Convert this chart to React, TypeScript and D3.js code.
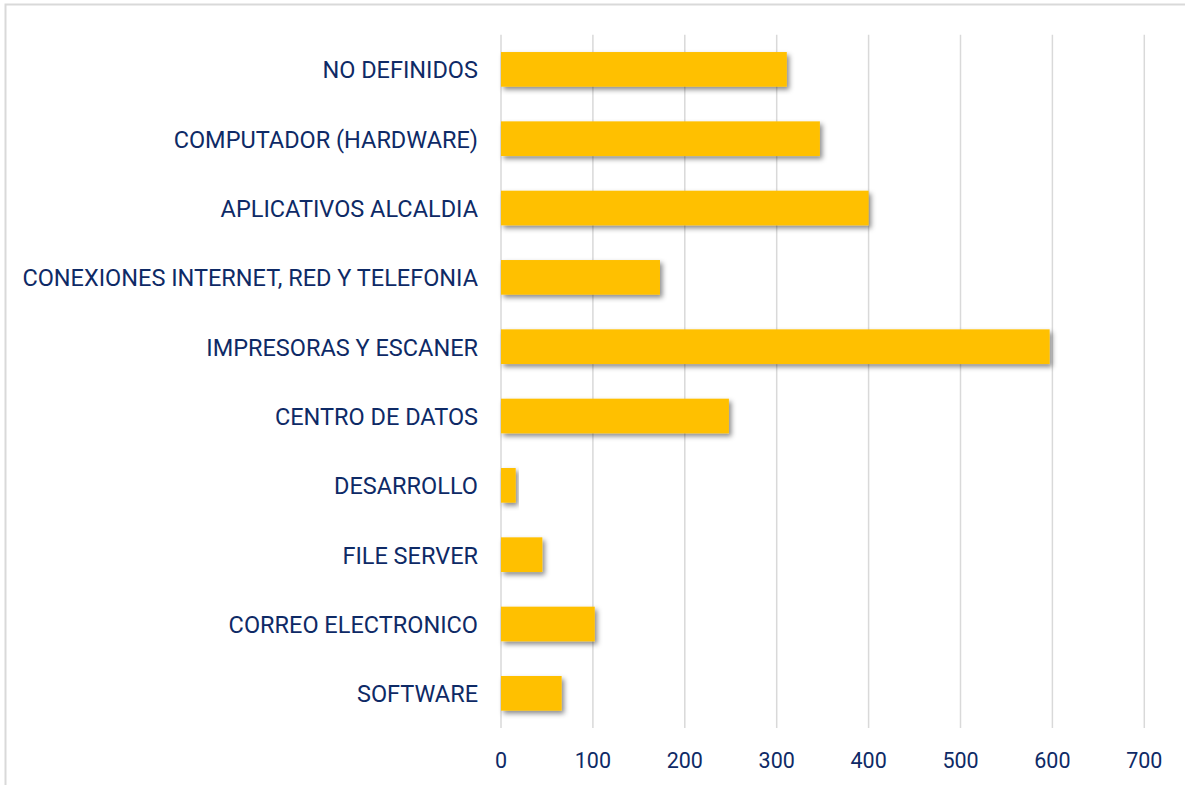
import React, { useEffect, useRef } from "react";
import * as d3 from "d3";

const categories = [
  "NO DEFINIDOS",
  "COMPUTADOR (HARDWARE)",
  "APLICATIVOS ALCALDIA",
  "CONEXIONES INTERNET, RED Y TELEFONIA",
  "IMPRESORAS Y ESCANER",
  "CENTRO DE DATOS",
  "DESARROLLO",
  "FILE SERVER",
  "CORREO ELECTRONICO",
  "SOFTWARE",
];
const values = [311, 347, 400, 173, 597, 248, 16, 45, 102, 66];
const xTicks = [0, 100, 200, 300, 400, 500, 600, 700];

const W = 1185;
const H = 785;
const left = 501;
const right = 1144.3;
const top = 34.7;
const bottom = 728;
const TEXT = "#0e2a66";
const FONT = "Roboto, 'Noto Sans', sans-serif";

export default function App() {
  const ref = useRef<SVGSVGElement>(null);
  useEffect(() => {
    const svg = d3.select(ref.current);
    svg.selectAll("*").remove();
    const defs = svg.append("defs");
    const f = defs.append("filter").attr("id", "sh").attr("x", "-10%").attr("y", "-30%").attr("width", "130%").attr("height", "180%");
    f.append("feDropShadow").attr("dx", 2.5).attr("dy", 3).attr("stdDeviation", 2.4).attr("flood-color", "#000").attr("flood-opacity", 0.45);

    svg.append("rect").attr("width", W).attr("height", H).attr("fill", "#fff");
    svg.append("rect").attr("x", 5.5).attr("y", 4.5).attr("width", W + 10).attr("height", H + 10)
      .attr("fill", "none").attr("stroke", "#d9d9d9").attr("stroke-width", 2);

    const x = d3.scaleLinear().domain([0, 700]).range([left, right]);
    const y = d3.scaleBand().domain(categories).range([top, bottom]).paddingInner(0.5).paddingOuter(0.25);

    const g = svg.append("g");
    g.selectAll("line.grid").data(xTicks).enter().append("line")
      .attr("x1", (d) => x(d)).attr("x2", (d) => x(d)).attr("y1", top).attr("y2", bottom)
      .attr("stroke", "#d9d9d9").attr("stroke-width", 1.5);

    g.selectAll("rect.bar").data(categories).enter().append("rect")
      .attr("x", x(0)).attr("y", (d) => y(d)!)
      .attr("width", (d, i) => x(values[i]) - x(0)).attr("height", y.bandwidth())
      .attr("fill", "#FFC000").attr("filter", "url(#sh)");

    g.selectAll("text.cat").data(categories).enter().append("text")
      .attr("x", 478).attr("y", (d) => y(d)! + y.bandwidth() / 2 + 1)
      .attr("text-anchor", "end").attr("dominant-baseline", "central")
      .attr("font-family", FONT).attr("font-size", 23.5).attr("fill", TEXT)
      .text((d) => d);

    g.selectAll("text.tick").data(xTicks).enter().append("text")
      .attr("x", (d) => x(d)).attr("y", 760)
      .attr("text-anchor", "middle").attr("dominant-baseline", "central")
      .attr("font-family", FONT).attr("font-size", 21.5).attr("fill", TEXT)
      .text((d) => d);
  }, []);
  return (
    <svg ref={ref} width={W} height={H} style={{ position: "absolute", left: 0, top: 0 }} />
  );
}
